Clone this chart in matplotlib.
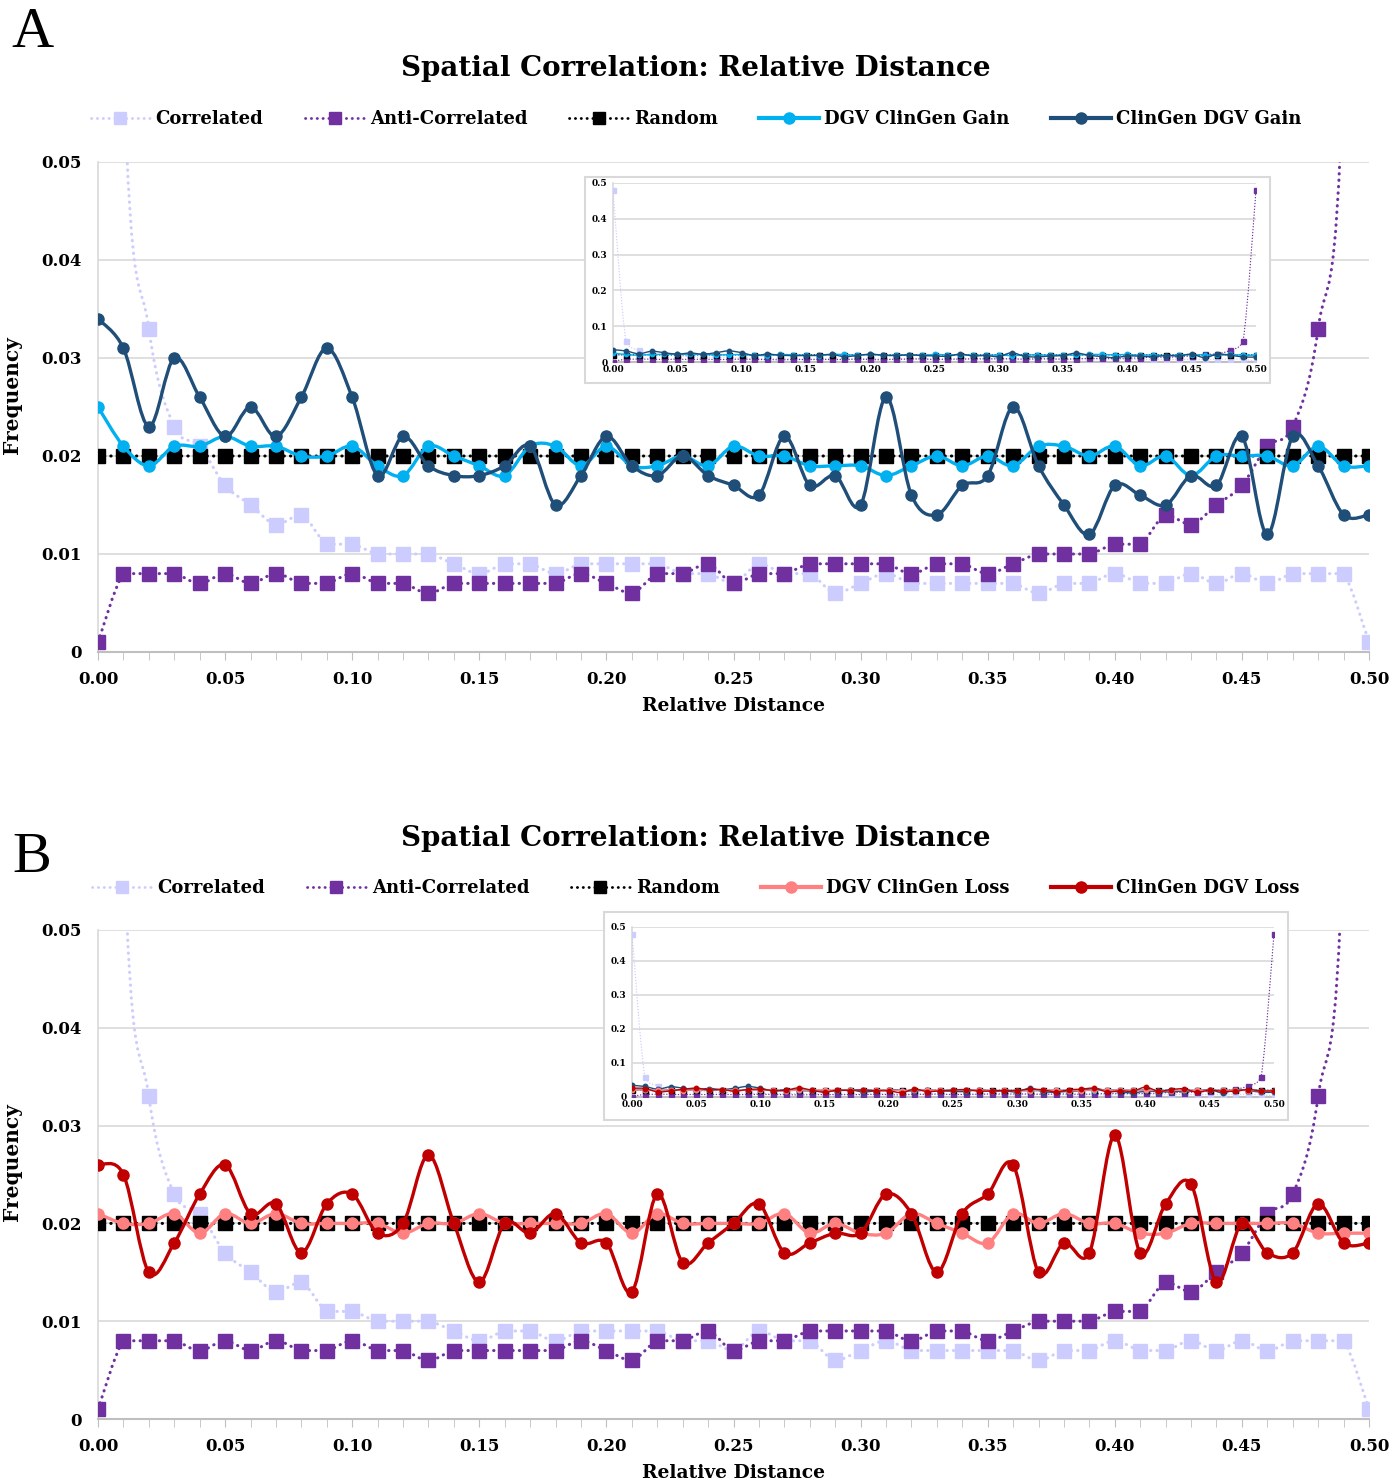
import numpy as np
import matplotlib
matplotlib.use("Agg")
import matplotlib.pyplot as plt
from matplotlib.path import Path
from matplotlib.patches import PathPatch, Rectangle
from matplotlib.lines import Line2D
from matplotlib.ticker import MultipleLocator

plt.rcParams["font.family"] = ["DejaVu Serif"]
plt.rcParams["font.weight"] = "bold"

# relative distance bins 0.00 .. 0.50
rel_dist = [round(0.01 * i, 2) for i in range(51)]

correlated = [0.48, 0.06, 0.033, 0.023, 0.021, 0.017, 0.015, 0.013, 0.014, 0.011,
              0.011, 0.010, 0.010, 0.010, 0.009, 0.008, 0.009, 0.009, 0.008, 0.009,
              0.009, 0.009, 0.009, 0.008, 0.008, 0.007, 0.009, 0.008, 0.008, 0.006,
              0.007, 0.008, 0.007, 0.007, 0.007, 0.007, 0.007, 0.006, 0.007, 0.007,
              0.008, 0.007, 0.007, 0.008, 0.007, 0.008, 0.007, 0.008, 0.008, 0.008,
              0.001]
anti_correlated = [0.001, 0.008, 0.008, 0.008, 0.007, 0.008, 0.007, 0.008, 0.007, 0.007,
                   0.008, 0.007, 0.007, 0.006, 0.007, 0.007, 0.007, 0.007, 0.007, 0.008,
                   0.007, 0.006, 0.008, 0.008, 0.009, 0.007, 0.008, 0.008, 0.009, 0.009,
                   0.009, 0.009, 0.008, 0.009, 0.009, 0.008, 0.009, 0.010, 0.010, 0.010,
                   0.011, 0.011, 0.014, 0.013, 0.015, 0.017, 0.021, 0.023, 0.033, 0.06,
                   0.48]
random_exp = [0.02] * 51

dgv_clingen_gain = [0.025, 0.021, 0.019, 0.021, 0.021, 0.022, 0.021, 0.021, 0.020, 0.020,
                    0.021, 0.019, 0.018, 0.021, 0.020, 0.019, 0.018, 0.021, 0.021, 0.019,
                    0.021, 0.019, 0.019, 0.020, 0.019, 0.021, 0.020, 0.020, 0.019, 0.019,
                    0.019, 0.018, 0.019, 0.020, 0.019, 0.020, 0.019, 0.021, 0.021, 0.020,
                    0.021, 0.019, 0.020, 0.018, 0.020, 0.020, 0.020, 0.019, 0.021, 0.019,
                    0.019]
clingen_dgv_gain = [0.034, 0.031, 0.023, 0.030, 0.026, 0.022, 0.025, 0.022, 0.026, 0.031,
                    0.026, 0.018, 0.022, 0.019, 0.018, 0.018, 0.019, 0.021, 0.015, 0.018,
                    0.022, 0.019, 0.018, 0.020, 0.018, 0.017, 0.016, 0.022, 0.017, 0.018,
                    0.015, 0.026, 0.016, 0.014, 0.017, 0.018, 0.025, 0.019, 0.015, 0.012,
                    0.017, 0.016, 0.015, 0.018, 0.017, 0.022, 0.012, 0.022, 0.019, 0.014,
                    0.014]
dgv_clingen_loss = [0.021, 0.020, 0.020, 0.021, 0.019, 0.021, 0.020, 0.021, 0.020, 0.020,
                    0.020, 0.020, 0.019, 0.020, 0.020, 0.021, 0.020, 0.020, 0.020, 0.020,
                    0.021, 0.019, 0.021, 0.020, 0.020, 0.020, 0.020, 0.021, 0.019, 0.020,
                    0.019, 0.019, 0.021, 0.020, 0.019, 0.018, 0.021, 0.020, 0.021, 0.020,
                    0.020, 0.019, 0.019, 0.020, 0.020, 0.020, 0.020, 0.020, 0.019, 0.019,
                    0.019]
clingen_dgv_loss = [0.026, 0.025, 0.015, 0.018, 0.023, 0.026, 0.021, 0.022, 0.017, 0.022,
                    0.023, 0.019, 0.020, 0.027, 0.020, 0.014, 0.020, 0.019, 0.021, 0.018,
                    0.018, 0.013, 0.023, 0.016, 0.018, 0.020, 0.022, 0.017, 0.018, 0.019,
                    0.019, 0.023, 0.021, 0.015, 0.021, 0.023, 0.026, 0.015, 0.018, 0.017,
                    0.029, 0.017, 0.022, 0.024, 0.014, 0.020, 0.017, 0.017, 0.022, 0.018,
                    0.018]

TITLE = "Spatial Correlation: Relative Distance"
GRID = "#D9D9D9"

STYLES = {
    "Correlated": dict(color="#CCCCFF", ls="dot", marker="s"),
    "Anti-Correlated": dict(color="#7030A0", ls="dot", marker="s"),
    "Random": dict(color="black", ls="dot", marker="s"),
    "DGV ClinGen Gain": dict(color="#00B0F0", ls="solid", marker="o"),
    "ClinGen DGV Gain": dict(color="#1F4E79", ls="solid", marker="o"),
    "DGV ClinGen Loss": dict(color="#FF8080", ls="solid", marker="o"),
    "ClinGen DGV Loss": dict(color="#C00000", ls="solid", marker="o"),
}


def smooth_path(x, y, clamp=False):
    # Excel-like smoothed line: cubic bezier through every point
    pts = np.column_stack([x, y]).astype(float)
    n = len(pts)
    verts = [pts[0]]
    codes = [Path.MOVETO]
    for i in range(n - 1):
        p0 = pts[max(i - 1, 0)]
        p1 = pts[i]
        p2 = pts[i + 1]
        p3 = pts[min(i + 2, n - 1)]
        c1 = p1 + (p2 - p0) / 6
        c2 = p2 - (p3 - p1) / 6
        if clamp:
            lo, hi = min(p1[1], p2[1]), max(p1[1], p2[1])
            c1[1] = np.clip(c1[1], lo, hi)
            c2[1] = np.clip(c2[1], lo, hi)
        verts += [c1, c2, p2]
        codes += [Path.CURVE4] * 3
    return Path(verts, codes)


def draw_series(ax, name, values, lw, ms, z):
    st = STYLES[name]
    dotted = st["ls"] == "dot"
    ls = (0, (0.1, 2.0)) if dotted else "solid"
    patch = PathPatch(smooth_path(rel_dist, values, clamp=dotted), fill=False,
                      edgecolor=st["color"], lw=lw, linestyle=ls, zorder=z)
    patch.set_capstyle("round")
    ax.add_patch(patch)
    ax.plot(rel_dist, values, ls="none", marker=st["marker"], ms=ms,
            color=st["color"], mec=st["color"], zorder=z + 0.5)


def legend_handles(names):
    handles = []
    for name in names:
        st = STYLES[name]
        if st["ls"] == "dot":
            h = Line2D([], [], color=st["color"], lw=2.0, ls=(0, (0.1, 2.0)),
                       dash_capstyle="round", marker="s", ms=9)
        else:
            h = Line2D([], [], color=st["color"], lw=3, marker="o", ms=8)
        handles.append(h)
    return handles


def style_axis(ax, ymax, ystep, ylabels, tick_size, xpad, ypad, tick_len):
    ax.set_xlim(0, 0.5)
    ax.set_ylim(0, ymax)
    ax.set_yticks(np.arange(0, ymax + ystep / 2, ystep))
    ax.set_yticklabels(ylabels, fontsize=tick_size, fontweight="bold")
    ax.xaxis.set_major_locator(MultipleLocator(0.05))
    ax.xaxis.set_minor_locator(MultipleLocator(0.01))
    ax.set_xticklabels([f"{v:.2f}" for v in ax.get_xticks()], fontsize=tick_size,
                       fontweight="bold")
    ax.tick_params(axis="y", length=0, pad=ypad)
    ax.tick_params(axis="x", which="both", length=tick_len, color="#BFBFBF",
                   direction="out", pad=xpad)
    ax.grid(axis="y", color=GRID, lw=1.2)
    ax.set_axisbelow(True)
    for s in ["top", "right"]:
        ax.spines[s].set_visible(False)
    ax.spines["left"].set_color(GRID)
    ax.spines["bottom"].set_color("#BFBFBF")
    ax.spines["left"].set_linewidth(1.2)
    ax.spines["bottom"].set_linewidth(1.5)


def draw_panel(fig, letter, letter_px, top_px, series, inset_series, main_box,
               inset_box, frame_box):
    H = 1484.0
    W = 1392.0

    def fy(px):
        return 1 - px / H

    # panel letter, title, legend
    fig.text(32 / W, fy(letter_px), letter, fontsize=42, family="Liberation Serif",
             fontweight="normal", ha="center", va="center")
    fig.text(0.5, fy(top_px + 59), TITLE, fontsize=20, ha="center", va="center",
             fontweight="bold")
    names = [n for n, _ in series]
    fig.legend(legend_handles(names), names, loc="center", ncol=5,
               bbox_to_anchor=(0.5, fy(top_px + 109)), frameon=False,
               prop=dict(size=13, weight="bold"), handlelength=3.3,
               handletextpad=0.3, columnspacing=2.3)

    # main axes
    l, r, t, b = main_box
    ax = fig.add_axes([l / W, fy(b), (r - l) / W, (b - t) / H])
    style_axis(ax, 0.05, 0.01, ["0", "0.01", "0.02", "0.03", "0.04", "0.05"],
               12, 8, 12, 6)
    for k, (name, vals) in enumerate(series):
        lw = 2.2 if STYLES[name]["ls"] == "dot" else 2.4
        draw_series(ax, name, vals, lw, 8 if STYLES[name]["marker"] == "o" else 9.5,
                    3 + k)
    fig.text(0.5 * (l + r) / W, fy(b + 54), "Relative Distance", fontsize=13.5,
             ha="center", va="center", fontweight="bold")
    fig.text(12 / W, fy(0.5 * (t + b) - 12), "Frequency", fontsize=14.5, rotation=90,
             ha="center", va="center", fontweight="bold")

    # inset frame and inset axes
    fl, fr, ft, fb = frame_box
    fig.patches.append(Rectangle((fl / W, fy(fb)), (fr - fl) / W, (fb - ft) / H,
                                 transform=fig.transFigure, facecolor="white",
                                 edgecolor=GRID, lw=1.5, zorder=20))
    il, ir, it, ib = inset_box
    iax = fig.add_axes([il / W, fy(ib), (ir - il) / W, (ib - it) / H], zorder=21)
    iax.patch.set_alpha(0)
    style_axis(iax, 0.5, 0.1, ["0", "0.1", "0.2", "0.3", "0.4", "0.5"], 6.5, 2, 4, 0)
    for k, (name, vals) in enumerate(inset_series):
        draw_series(iax, name, vals, 1.0, 3.2 if STYLES[name]["marker"] == "o" else 3.6,
                    3 + k)


fig = plt.figure(figsize=(13.92, 14.84), dpi=100)

series_a = [("Correlated", correlated), ("Anti-Correlated", anti_correlated),
            ("Random", random_exp), ("DGV ClinGen Gain", dgv_clingen_gain),
            ("ClinGen DGV Gain", clingen_dgv_gain)]
series_b = [("Correlated", correlated), ("Anti-Correlated", anti_correlated),
            ("Random", random_exp), ("DGV ClinGen Loss", dgv_clingen_loss),
            ("ClinGen DGV Loss", clingen_dgv_loss)]
inset_b = [("Correlated", correlated), ("Anti-Correlated", anti_correlated),
           ("Random", random_exp), ("DGV ClinGen Gain", dgv_clingen_gain),
           ("ClinGen DGV Gain", clingen_dgv_gain), ("DGV ClinGen Loss", dgv_clingen_loss),
           ("ClinGen DGV Loss", clingen_dgv_loss)]

draw_panel(fig, "A", 33, 10, series_a, series_a,
           main_box=(98, 1369, 162, 652), inset_box=(613, 1256, 183, 362),
           frame_box=(585, 1270, 177, 383))
draw_panel(fig, "B", 858, 779, series_b, inset_b,
           main_box=(98, 1369, 930, 1419), inset_box=(632, 1274, 927, 1097),
           frame_box=(604, 1288, 912, 1120))

fig.savefig("out.png", dpi=100)
